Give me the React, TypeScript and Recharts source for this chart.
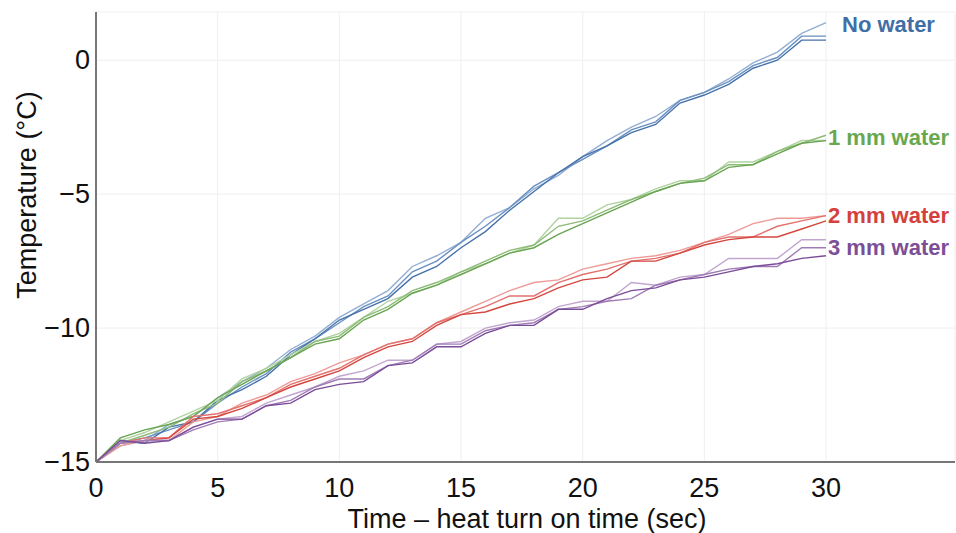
import { LineChart, Line, XAxis, YAxis, CartesianGrid } from "recharts";

const seconds = Array.from({ length: 31 }, (_, i) => i);

const noWaterA = [-15, -14.4, -14.2, -13.6, -13.3, -12.6, -12.0, -11.5, -10.8, -10.3, -9.6, -9.1, -8.6, -7.7, -7.3, -6.8, -5.9, -5.5, -4.8, -4.3, -3.6, -3.0, -2.5, -2.1, -1.5, -1.2, -0.7, -0.1, 0.3, 1.0, 1.4];
const noWaterB = [-15, -14.3, -14.1, -13.8, -13.5, -12.8, -12.2, -11.7, -10.9, -10.4, -9.8, -9.2, -8.8, -7.9, -7.5, -6.8, -6.2, -5.5, -4.7, -4.2, -3.7, -3.2, -2.6, -2.3, -1.5, -1.2, -0.8, -0.2, 0.1, 0.9, 0.9];
const noWaterC = [-15, -14.2, -14.3, -13.7, -13.5, -12.7, -12.3, -11.8, -11.0, -10.4, -9.7, -9.3, -8.9, -8.1, -7.7, -7.0, -6.4, -5.6, -4.9, -4.2, -3.6, -3.2, -2.7, -2.4, -1.6, -1.3, -0.9, -0.3, 0.0, 0.75, 0.75];

const oneMmA = [-15, -14.2, -13.9, -13.5, -13.1, -12.7, -11.9, -11.5, -11.0, -10.5, -10.2, -9.6, -9.0, -8.7, -8.4, -7.9, -7.6, -7.2, -6.9, -5.9, -5.9, -5.4, -5.2, -4.8, -4.5, -4.5, -3.8, -3.8, -3.4, -3.0, -3.0];
const oneMmB = [-15, -14.3, -14.0, -13.7, -13.2, -12.8, -12.0, -11.6, -11.1, -10.5, -10.3, -9.6, -9.2, -8.6, -8.3, -7.9, -7.5, -7.1, -6.9, -6.2, -6.0, -5.6, -5.2, -4.9, -4.6, -4.4, -3.9, -3.9, -3.4, -3.1, -2.8];
const oneMmC = [-15, -14.1, -13.8, -13.6, -13.3, -12.6, -12.1, -11.6, -11.1, -10.6, -10.4, -9.7, -9.3, -8.7, -8.4, -8.0, -7.6, -7.2, -7.0, -6.5, -6.1, -5.7, -5.3, -4.9, -4.6, -4.5, -4.0, -3.9, -3.5, -3.1, -3.0];

const twoMmA = [-15, -14.4, -14.2, -14.2, -13.5, -13.3, -12.8, -12.5, -12.0, -11.7, -11.3, -11.0, -10.6, -10.4, -9.8, -9.4, -9.0, -8.6, -8.3, -8.2, -7.8, -7.6, -7.4, -7.3, -7.1, -6.8, -6.5, -6.1, -5.9, -5.9, -5.8];
const twoMmB = [-15, -14.3, -14.1, -14.1, -13.3, -13.2, -12.9, -12.6, -12.1, -11.8, -11.5, -11.0, -10.6, -10.4, -9.8, -9.5, -9.2, -8.8, -8.8, -8.3, -8.0, -7.8, -7.5, -7.4, -7.2, -6.8, -6.6, -6.6, -6.2, -6.0, -5.8];
const twoMmC = [-15, -14.3, -14.2, -14.1, -13.4, -13.3, -13.0, -12.6, -12.2, -11.9, -11.6, -11.1, -10.7, -10.5, -9.9, -9.5, -9.4, -9.1, -8.9, -8.5, -8.2, -8.1, -7.5, -7.5, -7.2, -6.9, -6.7, -6.6, -6.6, -6.3, -6.0];

const threeMmA = [-15, -14.3, -14.2, -14.2, -13.7, -13.4, -13.3, -12.8, -12.5, -12.2, -11.8, -11.6, -11.2, -11.2, -10.6, -10.5, -10.0, -9.8, -9.7, -9.2, -9.0, -9.0, -8.3, -8.4, -8.1, -8.0, -7.4, -7.4, -7.4, -6.7, -6.7];
const threeMmB = [-15, -14.3, -14.2, -14.2, -13.8, -13.5, -13.4, -12.9, -12.7, -12.2, -11.9, -11.9, -11.4, -11.2, -10.6, -10.6, -10.1, -9.9, -9.8, -9.3, -9.2, -9.0, -8.9, -8.4, -8.2, -8.0, -7.8, -7.7, -7.7, -7.0, -7.0];
const threeMmC = [-15, -14.2, -14.3, -14.2, -13.7, -13.4, -13.4, -12.9, -12.8, -12.3, -12.1, -12.0, -11.4, -11.3, -10.7, -10.7, -10.2, -9.9, -9.9, -9.3, -9.3, -8.9, -8.6, -8.5, -8.2, -8.1, -7.9, -7.7, -7.6, -7.4, -7.3];

const xTicks = [0, 5, 10, 15, 20, 25, 30];
const yTicks = [-15, -10, -5, 0];

const series = [
  { key: "nwA", values: noWaterA, color: "#92afd3" },
  { key: "nwB", values: noWaterB, color: "#6990c0" },
  { key: "nwC", values: noWaterC, color: "#4672aa" },
  { key: "g1A", values: oneMmA, color: "#b0d3a0" },
  { key: "g1B", values: oneMmB, color: "#8dbb78" },
  { key: "g1C", values: oneMmC, color: "#68a451" },
  { key: "r2A", values: twoMmA, color: "#ee9b98" },
  { key: "r2B", values: twoMmB, color: "#e3716d" },
  { key: "r2C", values: twoMmC, color: "#d4473f" },
  { key: "p3A", values: threeMmA, color: "#c2a6d0" },
  { key: "p3B", values: threeMmB, color: "#a07cb5" },
  { key: "p3C", values: threeMmC, color: "#7b4c98" },
];

// end-of-line labels: which series carries it, text, colour, offsets
const endLabels: Record<string, { text: string; color: string; dx: number; dy: number }> = {
  nwA: { text: "No water", color: "#406ea6", dx: 16, dy: 2 },
  g1B: { text: "1 mm water", color: "#6aa84f", dx: 2, dy: 2 },
  r2B: { text: "2 mm water", color: "#d4403a", dx: 2, dy: 0 },
  p3B: { text: "3 mm water", color: "#7b4e96", dx: 2, dy: 0 },
};

const font = "'Liberation Sans', Arial, sans-serif";

const data = seconds.map((t, i) => {
  const row: Record<string, number> = { t };
  series.forEach((s) => {
    row[s.key] = s.values[i];
  });
  return row;
});

const fmt = (v: number) => (v < 0 ? `\u2212${Math.abs(v)}` : `${v}`);

const makeLabel = (key: string) => {
  const info = endLabels[key];
  if (!info) return undefined;
  return (props: any) => {
    if (props.index !== seconds.length - 1) return null;
    return (
      <text
        key={key + "-lbl"}
        x={props.x + info.dx}
        y={props.y + info.dy}
        dominantBaseline="central"
        fill={info.color}
        fontSize={22}
        fontWeight="bold"
        fontFamily={font}
      >
        {info.text}
      </text>
    );
  };
};

const XTick = (props: any) => (
  <text x={props.x} y={props.y + 20} textAnchor="middle" dominantBaseline="central" fill="#111" fontSize={27} fontFamily={font}>
    {fmt(props.payload.value)}
  </text>
);

const YTick = (props: any) => (
  <text x={props.x} y={props.y} textAnchor="end" dominantBaseline="central" fill="#111" fontSize={27} fontFamily={font}>
    {fmt(props.payload.value)}
  </text>
);

export default function App() {
  return (
    <div style={{ position: "absolute", left: 0, top: 0, background: "#fff" }}>
      <LineChart width={956} height={533} data={data} margin={{ top: 12, right: 1, left: 0, bottom: 0 }}>
        <CartesianGrid stroke="#efefef" strokeWidth={1} />
        <XAxis
          dataKey="t"
          type="number"
          domain={[0, 35.3]}
          ticks={xTicks}
          height={71}
          tickLine={false}
          axisLine={{ stroke: "#777", strokeWidth: 2 }}
          tick={<XTick />}
          tickMargin={0}
          label={() => (
            <text x={527} y={519} textAnchor="middle" dominantBaseline="central" fill="#111" fontSize={27} fontFamily={font}>
              Time {"\u2013"} heat turn on time (sec)
            </text>
          )}
        />
        <YAxis
          type="number"
          domain={[-15, 1.8]}
          ticks={yTicks}
          width={96}
          tickLine={false}
          axisLine={{ stroke: "#777", strokeWidth: 2 }}
          tick={<YTick />}
          tickMargin={0}
          label={() => (
            <text
              x={27}
              y={195}
              transform="rotate(-90 27 195)"
              textAnchor="middle"
              dominantBaseline="central"
              fill="#111"
              fontSize={27}
              fontFamily={font}
            >
              Temperature ({"\u00b0"}C)
            </text>
          )}
        />
        {series.map((s) => (
          <Line
            key={s.key}
            dataKey={s.key}
            stroke={s.color}
            strokeWidth={1.4}
            dot={false}
            type="linear"
            isAnimationActive={false}
            label={makeLabel(s.key)}
          />
        ))}
      </LineChart>
    </div>
  );
}
